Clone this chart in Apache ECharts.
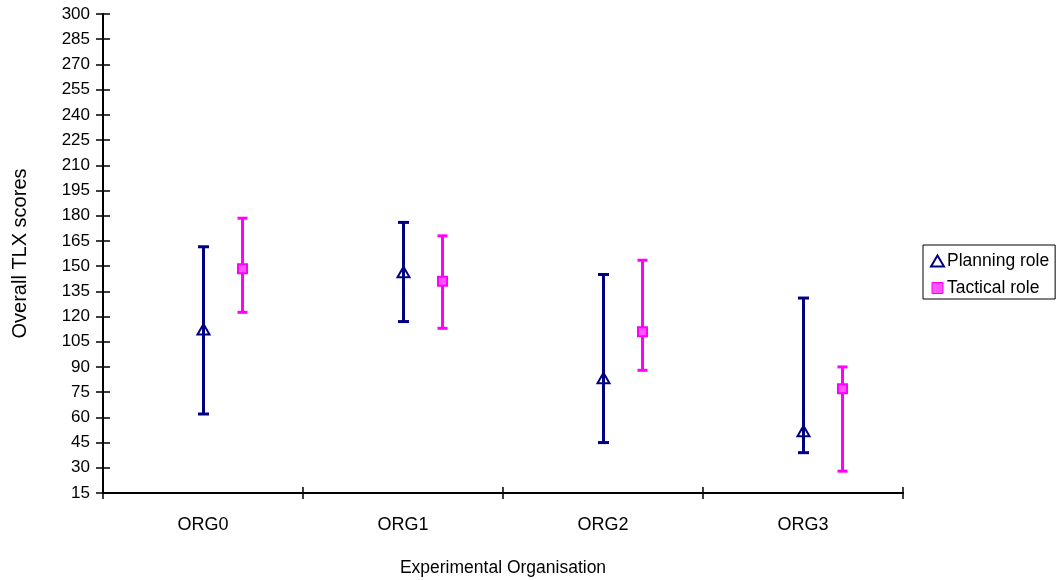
<!DOCTYPE html>
<html>
<head>
<meta charset="utf-8">
<script src="https://cdn.jsdelivr.net/npm/echarts@6/dist/echarts.min.js"></script>
<style>html,body{margin:0;padding:0;background:#fff;}#c{width:1056px;height:580px;}</style>
</head>
<body>
<div id="c"></div>
<script>
var categories = ['ORG0', 'ORG1', 'ORG2', 'ORG3'];
var planningMean = [112, 146, 83, 51.5];
var planningLow  = [62, 117, 45, 39];
var planningHigh = [161.5, 176, 145, 131];
var tacticalMean = [148.5, 141, 111, 77];
var tacticalLow  = [122.5, 113, 88, 28];
var tacticalHigh = [178.5, 168, 153.5, 90];
var yMin = 15, yMax = 300, yStep = 15;

var FONT = 'Liberation Sans, Arial, sans-serif';
var NAVY = '#000080', MAG = '#ff00ff';

function build(low, high, mean) {
  return categories.map(function (c, i) { return [i, low[i], high[i], mean[i]]; });
}

function makeRender(dx, color, capW, marker) {
  return function (params, api) {
    var x = api.value(0);
    var lo = api.coord([x, api.value(1)]);
    var hi = api.coord([x, api.value(2)]);
    var m = api.coord([x, api.value(3)]);
    var px = Math.round(lo[0]) + dx + 0.5;
    var st = { stroke: color, lineWidth: 3 };
    var children = [
      { type: 'line', shape: { x1: px, y1: hi[1], x2: px, y2: lo[1] }, style: st },
      { type: 'line', shape: { x1: px - capW / 2, y1: hi[1], x2: px + capW / 2, y2: hi[1] }, style: st },
      { type: 'line', shape: { x1: px - capW / 2, y1: lo[1], x2: px + capW / 2, y2: lo[1] }, style: st }
    ];
    if (marker === 'triangle') {
      children.push({ type: 'polygon', shape: { points: [[px, m[1] - 6], [px - 6, m[1] + 4.5], [px + 6, m[1] + 4.5]] },
        style: { fill: 'rgba(255,255,255,0)', stroke: color, lineWidth: 2 } });
    } else {
      children.push({ type: 'rect', shape: { x: px - 4.5, y: m[1] - 4.5, width: 9, height: 9 },
        style: { fill: '#ff55ff', stroke: color, lineWidth: 2 } });
    }
    return { type: 'group', children: children };
  };
}

var chart = echarts.init(document.getElementById('c'), null, { renderer: 'canvas' });
chart.setOption({
  animation: false,
  backgroundColor: '#fff',
  textStyle: { fontFamily: FONT },
  grid: { left: 103, right: 153, top: 14, bottom: 87, containLabel: false, outerBoundsMode: 'none' },
  legend: {
    orient: 'vertical', left: 923, top: 245,
    padding: [6, 6, 1, 7], itemGap: 7, itemWidth: 13, itemHeight: 11,
    borderColor: '#000', borderWidth: 1, backgroundColor: '#fff',
    textStyle: { fontFamily: FONT, fontSize: 17.5, lineHeight: 20, color: '#000', padding: [0, 0, 0, -2] },
    data: [
      { name: 'Planning role', icon: 'triangle', itemStyle: { color: 'rgba(255,255,255,0)', borderColor: NAVY, borderWidth: 2 } },
      { name: 'Tactical role', icon: 'path://M2,1L11,1L11,10L2,10Z', itemStyle: { color: '#ff55ff', borderColor: MAG, borderWidth: 1 } }
    ]
  },
  xAxis: [{
    type: 'category', data: categories, boundaryGap: true,
    name: 'Experimental Organisation', nameLocation: 'middle', nameGap: 66,
    nameTextStyle: { fontFamily: FONT, fontSize: 17.5, color: '#000' },
    axisLine: { lineStyle: { color: '#000', width: 2 } },
    axisTick: { show: true, length: 6, lineStyle: { color: '#000', width: 1.5 } },
    axisLabel: { fontFamily: FONT, fontSize: 18, color: '#000', margin: 23 },
    splitLine: { show: false }
  }, {
    type: 'category', data: categories, boundaryGap: true, position: 'bottom',
    axisLine: { show: false },
    axisTick: { show: true, inside: true, length: 6, lineStyle: { color: '#000', width: 1.5 } },
    axisLabel: { show: false }, splitLine: { show: false }
  }],
  yAxis: [{
    type: 'value', min: yMin, max: yMax, interval: yStep,
    name: 'Overall TLX scores', nameLocation: 'middle', nameGap: 73,
    nameTextStyle: { fontFamily: FONT, fontSize: 20, color: '#000' },
    axisLine: { show: true, lineStyle: { color: '#000', width: 2 } },
    axisTick: { show: true, length: 7, lineStyle: { color: '#000', width: 1.5 } },
    axisLabel: { fontFamily: FONT, fontSize: 17, color: '#000', margin: 13 },
    splitLine: { show: false }
  }, {
    type: 'value', min: yMin, max: yMax, interval: yStep, position: 'left',
    axisLine: { show: false },
    axisTick: { show: true, inside: true, length: 7, lineStyle: { color: '#000', width: 1.5 } },
    axisLabel: { show: false }, splitLine: { show: false }
  }],
  series: [{
    name: 'Planning role', type: 'custom', data: build(planningLow, planningHigh, planningMean),
    renderItem: makeRender(0, NAVY, 11, 'triangle'), encode: { x: 0, y: [1, 2, 3] },
    itemStyle: { color: NAVY }
  }, {
    name: 'Tactical role', type: 'custom', data: build(tacticalLow, tacticalHigh, tacticalMean),
    renderItem: makeRender(39, MAG, 10, 'rect'), encode: { x: 0, y: [1, 2, 3] },
    itemStyle: { color: MAG }
  }]
});
</script>
</body>
</html>
